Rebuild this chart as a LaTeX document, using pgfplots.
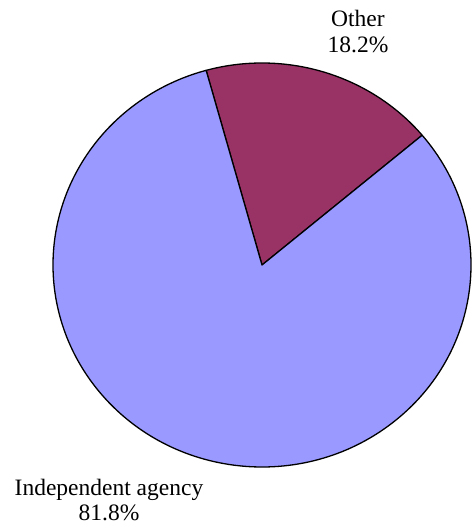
\documentclass[border=0pt]{standalone}
\usepackage{fontspec}
\setmainfont{Liberation Serif}
\usepackage{pgfplots}
\pgfplotsset{compat=1.18}
\definecolor{indep}{HTML}{9999FF}
\definecolor{other}{HTML}{993366}
% data (percent)
\def\valIndep{81.8}
\def\valOther{18.2}
\begin{document}
\begin{tikzpicture}
\begin{axis}[
  hide axis, scale only axis,
  width=473pt, height=525pt,
  xmin=0, xmax=473, ymin=0, ymax=525,
  clip=false, anchor=south west, at={(0,0)},
]
\pgfmathsetmacro{\startA}{105.5}
\pgfmathsetmacro{\endOther}{\startA-\valOther*3.6}
\pgfmathsetmacro{\endIndep}{\endOther-\valIndep*3.6}
% Other slice
\filldraw[fill=other, draw=black, line width=1.3pt, line join=round]
  (axis cs:262,260) -- ++(\startA:209pt and 202pt)
  arc[start angle=\startA, end angle=\endOther, x radius=209pt, y radius=202pt] -- cycle;
% Independent agency slice
\filldraw[fill=indep, draw=black, line width=1.3pt, line join=round]
  (axis cs:262,260) -- ++(\endOther:209pt and 202pt)
  arc[start angle=\endOther, end angle=\endIndep, x radius=209pt, y radius=202pt] -- cycle;
\node[align=center, font=\fontsize{23.5}{26.5}\selectfont, anchor=base] at (axis cs:358,472)
  {Other\\18.2\%};
\node[align=center, font=\fontsize{23.5}{25.5}\selectfont, anchor=base] at (axis cs:109,4.5)
  {Independent agency\\81.8\%};
\end{axis}
\pgfresetboundingbox
\path[use as bounding box] (0,0) rectangle (473pt,525pt);
\end{tikzpicture}
\end{document}
